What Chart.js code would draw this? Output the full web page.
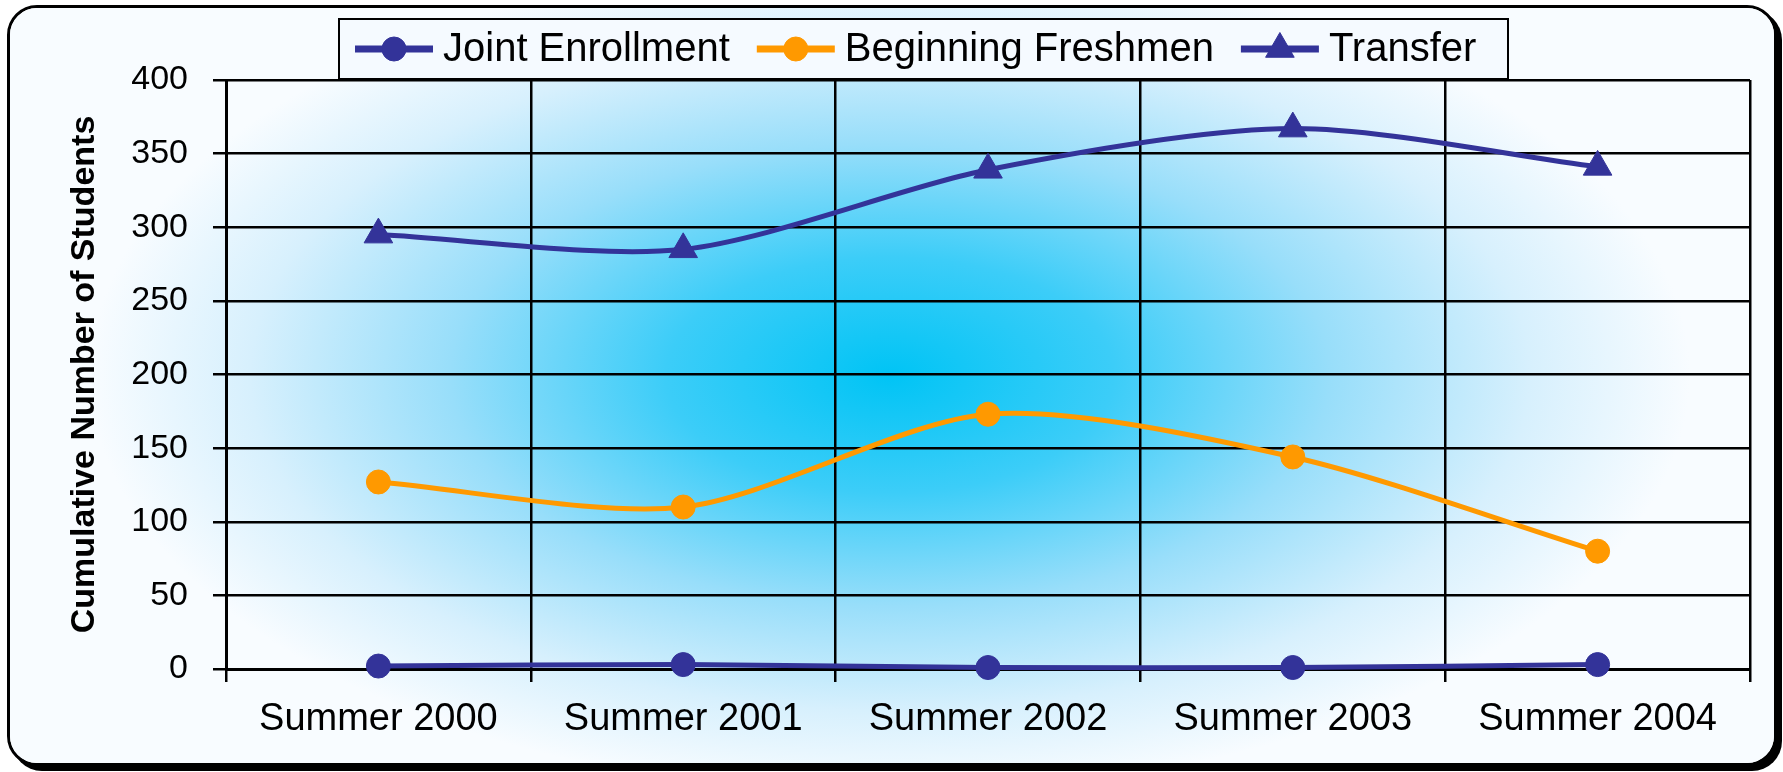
<!DOCTYPE html>
<html>
<head>
<meta charset="utf-8">
<script src="https://cdn.jsdelivr.net/npm/chart.js@4.4.1/dist/chart.umd.min.js"></script>
<style>
  html, body { margin: 0; padding: 0; background: #fff; }
  body { width: 1783px; height: 772px; position: relative; overflow: hidden; }
  #frame {
    position: absolute; left: 7px; top: 5px; width: 1770px; height: 761px;
    box-sizing: border-box; border: 3px solid #000; border-radius: 30px;
    box-shadow: 5px 5px 0 #000; overflow: hidden; background: #fff;
  }
  #wrap { position: absolute; left: -10px; top: -8px; width: 1783px; height: 772px; }
</style>
</head>
<body>
<div id="frame"><div id="wrap"><canvas id="chart"></canvas></div></div>
<script>
const labels = ['Summer 2000', 'Summer 2001', 'Summer 2002', 'Summer 2003', 'Summer 2004'];
const jointEnrollment = [2, 3, 1, 1, 3];
const beginningFreshmen = [127, 110, 173, 144, 80];
const transfer = [295, 285, 339, 367, 341];

const NAVY = '#333399';
const ORANGE = '#FF9900';
const FONT = '"Liberation Sans", Arial, sans-serif';

// narrow bold font for the axis title if it exists, else plain bold
function hasFont(name) {
  const c = document.createElement('canvas').getContext('2d');
  c.font = '40px monospace';
  const w1 = c.measureText('Cumulative Number').width;
  c.font = '40px "' + name + '", monospace';
  return c.measureText('Cumulative Number').width !== w1;
}
const narrow = hasFont('Liberation Sans Narrow');
const titleFont = narrow
  ? { family: '"Liberation Sans Narrow", ' + FONT, size: 41, weight: 'bold', lineHeight: 1 }
  : { family: FONT, size: 34, weight: 'bold', lineHeight: 1 };

const bgPlugin = {
  id: 'bg',
  beforeDraw(chart) {
    const ctx = chart.ctx;
    const cx = 890, cy = 375, rx = 800, ry = 420;
    const k = ry / rx;
    ctx.save();
    ctx.translate(cx, cy);
    ctx.scale(1, k);
    const g = ctx.createRadialGradient(0, 0, 0, 0, 0, rx);
    g.addColorStop(0, 'rgb(0,196,245)');
    g.addColorStop(0.28, 'rgb(60,205,248)');
    g.addColorStop(0.55, 'rgb(152,222,250)');
    g.addColorStop(0.8, 'rgb(215,240,253)');
    g.addColorStop(1, 'rgb(248,252,255)');
    ctx.fillStyle = '#fff';
    ctx.fillRect(-cx, -cy / k, chart.width, chart.height / k);
    ctx.fillStyle = g;
    ctx.fillRect(-cx, -cy / k, chart.width, chart.height / k);
    ctx.restore();
  }
};

const legendPlugin = {
  id: 'boxLegend',
  afterDraw(chart) {
    const ctx = chart.ctx;
    const box = { left: 339, top: 19, width: 1169, height: 60 };
    const cy = box.top + box.height / 2;
    ctx.save();
    ctx.fillStyle = '#f5faff';
    ctx.fillRect(box.left, box.top, box.width, box.height);
    ctx.strokeStyle = '#000';
    ctx.lineWidth = 2;
    ctx.strokeRect(box.left, box.top, box.width, box.height);
    ctx.font = '40px ' + FONT;
    ctx.textBaseline = 'middle';
    let x = box.left + 16;
    chart.data.datasets.forEach(ds => {
      ctx.strokeStyle = ds.borderColor;
      ctx.lineWidth = 7;
      ctx.beginPath();
      ctx.moveTo(x, cy);
      ctx.lineTo(x + 78, cy);
      ctx.stroke();
      ctx.fillStyle = ds.pointBackgroundColor;
      ctx.lineWidth = 1;
      Chart.helpers.drawPoint(ctx, { pointStyle: ds.pointStyle, radius: ds.pointRadius, borderWidth: 1, rotation: 0 }, x + 39, cy);
      ctx.fillStyle = '#000';
      ctx.fillText(ds.label, x + 88, cy + 1);
      x += 88 + ctx.measureText(ds.label).width + 27;
    });
    ctx.restore();
  }
};

function series(label, data, color, style, radius) {
  return {
    label, data,
    borderColor: color,
    backgroundColor: color,
    pointBackgroundColor: color,
    pointBorderColor: color,
    pointBorderWidth: 1,
    pointStyle: style,
    pointRadius: radius,
    borderWidth: 5,
    tension: 0.28,
    clip: false
  };
}

new Chart(document.getElementById('chart'), {
  type: 'line',
  data: {
    labels,
    datasets: [
      series('Joint Enrollment', jointEnrollment, NAVY, 'circle', 12),
      series('Beginning Freshmen', beginningFreshmen, ORANGE, 'circle', 12),
      series('Transfer', transfer, NAVY, 'triangle', 16.5)
    ]
  },
  options: {
    responsive: true,
    maintainAspectRatio: false,
    animation: false,
    events: [],
    layout: { padding: { left: 30, right: 33, top: 80, bottom: 33 } },
    plugins: { legend: { display: false }, tooltip: { enabled: false } },
    scales: {
      x: {
        offset: true,
        grid: { color: '#000', lineWidth: 2.5, tickLength: 13, offset: true },
        border: { color: '#000', width: 3 },
        ticks: { color: '#000', font: { family: FONT, size: 38 }, padding: 15, maxRotation: 0 },
        afterFit(s) { s.height = 70; }
      },
      y: {
        min: 0, max: 400,
        grid: { color: '#000', lineWidth: 2.5, tickLength: 13 },
        border: { color: '#000', width: 3 },
        ticks: { stepSize: 50, color: '#000', font: { family: FONT, size: 34 }, padding: 25 },
        title: { display: true, text: 'Cumulative Number of Students', color: '#000', font: titleFont, padding: { top: 38, bottom: 0 } },
        afterFit(s) { s.width = 196; }
      }
    }
  },
  plugins: [bgPlugin, legendPlugin]
});
</script>
</body>
</html>
